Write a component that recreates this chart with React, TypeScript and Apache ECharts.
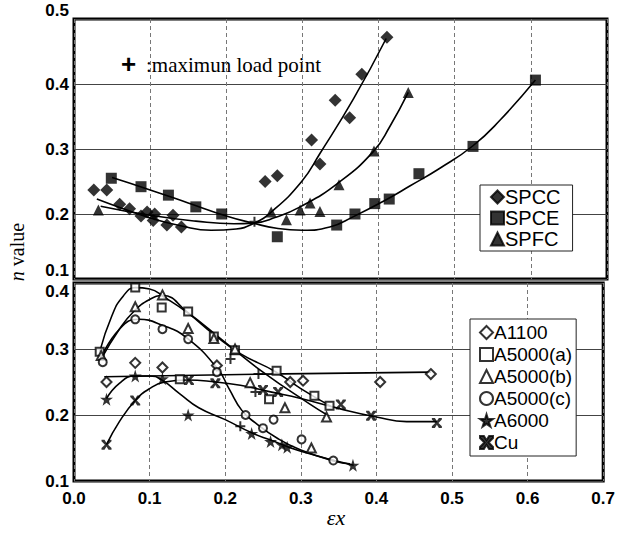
import React, { useEffect, useRef } from "react";
import * as echarts from "echarts";

// ---------- data ----------
const xTicks = [0, 0.1, 0.2, 0.3, 0.4, 0.5, 0.6, 0.7];

// top panel (steel sheets)
const spccPts = [[0.026,0.237],[0.043,0.237],[0.06,0.215],[0.073,0.208],[0.088,0.197],[0.096,0.203],[0.104,0.19],[0.106,0.2],[0.122,0.183],[0.13,0.198],[0.141,0.18],[0.251,0.25],[0.267,0.259],[0.312,0.314],[0.323,0.277],[0.343,0.375],[0.362,0.348],[0.378,0.415],[0.411,0.472]];
const spcePts = [[0.049,0.255],[0.088,0.242],[0.124,0.229],[0.16,0.211],[0.194,0.2],[0.267,0.165],[0.345,0.183],[0.369,0.2],[0.395,0.216],[0.414,0.223],[0.453,0.262],[0.524,0.304],[0.606,0.406]];
const spfcPts = [[0.032,0.206],[0.259,0.203],[0.279,0.191],[0.297,0.206],[0.31,0.217],[0.323,0.204],[0.348,0.245],[0.394,0.297],[0.439,0.387]];
const spccCurve = [[0.03,0.223],[0.06,0.21],[0.1,0.194],[0.14,0.182],[0.18,0.175],[0.213,0.177],[0.235,0.185],[0.259,0.203],[0.299,0.25],[0.323,0.293],[0.367,0.377],[0.41,0.47]];
const spceCurve = [[0.05,0.256],[0.1,0.237],[0.15,0.217],[0.2,0.197],[0.235,0.186],[0.266,0.178],[0.3,0.175],[0.336,0.18],[0.367,0.196],[0.41,0.222],[0.441,0.243],[0.48,0.27],[0.524,0.305],[0.56,0.345],[0.606,0.406]];
const spfcCurve = [[0.035,0.212],[0.1,0.198],[0.16,0.189],[0.21,0.185],[0.235,0.186],[0.265,0.195],[0.297,0.211],[0.345,0.246],[0.393,0.296],[0.415,0.335],[0.439,0.387]];
const maxLoadTop = [[0.237,0.188]];

// bottom panel (non-ferrous)
const a1100Pts = [[0.043,0.25],[0.081,0.279],[0.117,0.272],[0.189,0.275],[0.286,0.25],[0.303,0.252],[0.405,0.25],[0.472,0.262]];
const a5000aPts = [[0.034,0.296],[0.081,0.393],[0.116,0.363],[0.151,0.357],[0.185,0.319],[0.213,0.298],[0.268,0.267],[0.14,0.254],[0.258,0.224],[0.318,0.229],[0.338,0.214]];
const a5000bPts = [[0.036,0.29],[0.081,0.364],[0.117,0.382],[0.151,0.331],[0.185,0.316],[0.213,0.3],[0.233,0.249],[0.279,0.211],[0.334,0.197],[0.314,0.15]];
const a5000cPts = [[0.038,0.28],[0.081,0.345],[0.117,0.33],[0.151,0.315],[0.189,0.265],[0.227,0.2],[0.264,0.193],[0.301,0.163],[0.343,0.131],[0.25,0.18]];
const a6000Pts = [[0.043,0.224],[0.081,0.259],[0.117,0.255],[0.151,0.2],[0.235,0.172],[0.26,0.16],[0.282,0.151],[0.369,0.124],[0.275,0.155]];
const cuPts = [[0.043,0.155],[0.081,0.222],[0.152,0.253],[0.187,0.248],[0.25,0.238],[0.27,0.235],[0.353,0.216],[0.393,0.199],[0.48,0.188]];
const a1100Line = [[0.04,0.258],[0.25,0.262],[0.472,0.265]];
const a5000aCurve = [[0.034,0.296],[0.05,0.35],[0.065,0.38],[0.081,0.393],[0.1,0.391],[0.12,0.378],[0.15,0.355],[0.185,0.322],[0.22,0.293],[0.266,0.266],[0.3,0.24],[0.34,0.213]];
const a5000bCurve = [[0.036,0.285],[0.06,0.33],[0.08,0.358],[0.1,0.375],[0.117,0.381],[0.15,0.356],[0.2,0.31],[0.25,0.265],[0.31,0.218],[0.335,0.2]];
const a5000cCurve = [[0.035,0.285],[0.06,0.33],[0.085,0.345],[0.117,0.336],[0.15,0.316],[0.19,0.27],[0.205,0.24],[0.222,0.207],[0.24,0.188],[0.27,0.164],[0.3,0.147],[0.345,0.13],[0.365,0.126]];
const a6000Curve = [[0.043,0.225],[0.06,0.248],[0.08,0.259],[0.1,0.259],[0.115,0.254],[0.14,0.232],[0.165,0.211],[0.2,0.193],[0.235,0.173],[0.26,0.162],[0.3,0.145],[0.37,0.124]];
const cuCurve = [[0.043,0.155],[0.06,0.19],[0.081,0.222],[0.1,0.24],[0.12,0.25],[0.15,0.253],[0.187,0.25],[0.22,0.245],[0.26,0.235],[0.3,0.225],[0.35,0.21],[0.4,0.197],[0.44,0.19],[0.48,0.19]];
const maxLoadBottom = [[0.207,0.285],[0.244,0.262],[0.22,0.183],[0.24,0.235]];

const topNames = ["SPCC", "SPCE", "SPFC"];
const bottomNames = ["A1100", "A5000(a)", "A5000(b)", "A5000(c)", "A6000", "Cu"];

// ---------- styling ----------
const STAR = "path://M50,0 L61,35 L98,35 L68,57 L79,91 L50,70 L21,91 L32,57 L2,35 L39,35 Z";
const HOURGLASS = "path://M0,0 L3,0 L5,3.2 L7,0 L10,0 L10,1.6 L6.6,5 L10,8.4 L10,10 L7,10 L5,6.8 L3,10 L0,10 L0,8.4 L3.4,5 L0,1.6 Z";
const PLUS = "path://M4,0 L6,0 L6,4 L10,4 L10,6 L6,6 L6,10 L4,10 L4,6 L0,6 L0,4 L4,4 Z";
const SANS = "'Liberation Sans', Arial, sans-serif";
const SERIF = "'Liberation Serif', 'Times New Roman', serif";

function scatter(name: string, data: number[][], grid: number, symbol: string, size: number, open: boolean) {
  return {
    type: "scatter", name, data, xAxisIndex: grid, yAxisIndex: grid,
    symbol, symbolSize: size, z: 5,
    itemStyle: open
      ? { color: "#fff", borderColor: "#000", borderWidth: 2 }
      : { color: "#000", borderColor: "#000", borderWidth: 0 },
  };
}
function curve(name: string, data: number[][], grid: number, smooth: boolean | number = true) {
  return {
    type: "line", name, data, xAxisIndex: grid, yAxisIndex: grid,
    smooth, showSymbol: false, symbol: "none", z: 3,
    lineStyle: { color: "#000", width: 1.6 },
  };
}

export default function App() {
  const ref = useRef<HTMLDivElement>(null);
  useEffect(() => {
    if (!ref.current) return;
    const chart = echarts.init(ref.current, null, { renderer: "svg" });
    const labelFont = { color: "#000", fontFamily: SANS, fontSize: 17, fontWeight: "bold" };
    const xAxisBase = (gi: number, showLabel: boolean) => ({
      type: "value", gridIndex: gi, min: 0, max: 0.7, interval: 0.1, position: "bottom",
      axisLine: { show: false }, axisTick: { show: false },
      splitLine: { show: true, lineStyle: { color: "#777", type: [4, 3], width: 1 } },
      axisLabel: { show: showLabel, formatter: (v: number) => v.toFixed(1), margin: 9, ...labelFont },
    });
    // main y axes: inner tick labels, edge labels handled by companion axes
    const yAxisMain = (gi: number, max: number, hide: string[]) => ({
      type: "value", gridIndex: gi, min: 0.1, max, interval: 0.1, position: "left", offset: 0,
      axisLine: { show: false }, axisTick: { show: false },
      splitLine: { show: true, lineStyle: { color: "#444", width: 1 } },
      axisLabel: {
        margin: 5, ...labelFont,
        formatter: (v: number) => (hide.includes(v.toFixed(1)) ? "" : v.toFixed(1)),
      },
    });
    // companion y axes: only the edge labels, aligned off their lines
    const yAxisEdge = (gi: number, max: number, keep: string[], va: string) => ({
      type: "value", gridIndex: gi, min: 0.1, max, interval: 0.1, position: "left", offset: 0,
      axisLine: { show: false, onZero: false }, axisTick: { show: false }, splitLine: { show: false },
      axisLabel: {
        margin: 5, ...labelFont, verticalAlign: va,
        formatter: (v: number) => (keep.includes(v.toFixed(1)) ? v.toFixed(1) : ""),
      },
    });
    const legendBase = {
      orient: "vertical", itemWidth: 13, itemHeight: 13,
      borderColor: "#222", borderWidth: 1, backgroundColor: "#fff",
      itemStyle: { borderWidth: 2 },
    };
    chart.setOption({
      animation: false,
      backgroundColor: "#fff",
      grid: [
        { left: 74, top: 19, width: 533, height: 260, show: true, borderColor: "#000", borderWidth: 3, backgroundColor: "transparent", containLabel: false },
        { left: 74, top: 283, width: 533, height: 198, show: true, borderColor: "#000", borderWidth: 3, backgroundColor: "transparent", containLabel: false },
      ],
      xAxis: [xAxisBase(0, false), xAxisBase(1, true)],
      yAxis: [
        yAxisMain(0, 0.5, ["0.1", "0.5"]),
        yAxisMain(1, 0.4, ["0.4"]),
        yAxisEdge(0, 0.5, ["0.1", "0.5"], "bottom"),
        yAxisEdge(1, 0.4, ["0.4"], "top"),
      ],
      legend: [
        {
          ...legendBase, data: topNames, left: 480, top: 185, itemGap: 1, padding: [2, 12, 2, 10],
          textStyle: { fontFamily: SANS, fontSize: 20, color: "#000", padding: [0, 0, 0, -4] },
        },
        {
          ...legendBase, data: bottomNames, left: 470, top: 319, itemGap: 3, padding: [4, 4, 4, 9],
          textStyle: { fontFamily: SANS, fontSize: 19, color: "#000", padding: [0, 0, 0, -4] },
        },
      ],
      graphic: [
        { type: "text", left: 121, top: 51, style: { text: "+", font: "bold 26px " + SANS, fill: "#000" } },
        { type: "text", left: 146, top: 54, style: { text: ":maximun load point", font: "21px " + SERIF, fill: "#000" } },
        {
          type: "text", x: 17, y: 252, rotation: Math.PI / 2,
          style: {
            text: "{i|n} value", align: "center", verticalAlign: "middle",
            font: "20px " + SERIF, fill: "#000",
            rich: { i: { font: "italic 20px " + SERIF, fill: "#000" } },
          },
        },
        {
          type: "text", x: 336, y: 517,
          style: { text: "\u03b5x", align: "center", verticalAlign: "middle", font: "italic 22px " + SERIF, fill: "#000" },
        },
      ],
      series: [
        curve("SPCC fit", spccCurve, 0),
        curve("SPCE fit", spceCurve, 0),
        curve("SPFC fit", spfcCurve, 0),
        scatter("SPCC", spccPts, 0, "diamond", 13, false),
        scatter("SPCE", spcePts, 0, "rect", 11, false),
        scatter("SPFC", spfcPts, 0, "triangle", 11, false),
        scatter("max load top", maxLoadTop, 0, PLUS, 10, false),
        curve("A1100 fit", a1100Line, 1, false),
        curve("A5000(a) fit", a5000aCurve, 1),
        curve("A5000(b) fit", a5000bCurve, 1),
        curve("A5000(c) fit", a5000cCurve, 1),
        curve("A6000 fit", a6000Curve, 1),
        curve("Cu fit", cuCurve, 1),
        scatter("A1100", a1100Pts, 1, "diamond", 10, true),
        scatter("A5000(a)", a5000aPts, 1, "rect", 8, true),
        scatter("A5000(b)", a5000bPts, 1, "triangle", 9, true),
        scatter("A5000(c)", a5000cPts, 1, "circle", 8, true),
        scatter("A6000", a6000Pts, 1, STAR, 13, false),
        scatter("Cu", cuPts, 1, HOURGLASS, 10, false),
        scatter("max load bottom", maxLoadBottom, 1, PLUS, 10, false),
      ],
    });
    return () => chart.dispose();
  }, []);
  return <div ref={ref} style={{ width: 618, height: 546, position: "absolute", left: 0, top: 0 }} />;
}
